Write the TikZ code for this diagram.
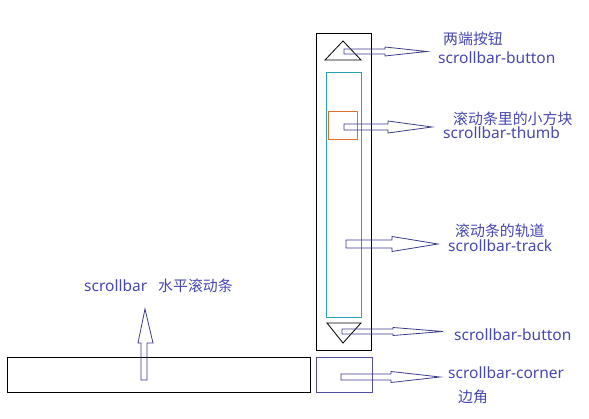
\documentclass[tikz,border=0pt]{standalone}
\usepackage{fontspec}
\setmainfont{Noto Sans}
\newfontfamily\cjk{Noto Sans CJK SC}
\definecolor{arrowc}{HTML}{3C3C8C}
\definecolor{textc}{HTML}{4646B4}
\definecolor{trackc}{HTML}{2AA0B4}
\definecolor{thumbc}{HTML}{E07030}
\definecolor{cornerc}{HTML}{50509A}
% right block arrow: #1 tail x, #2 y, #3 half shaft, #4 head start x, #5 half head, #6 tip x
\newcommand\rblockarrow[6]{%
  \draw[blockarr] (#1,#2-#3) -- (#4,#2-#3) -- (#4,#2-#5) -- (#6,#2) -- (#4,#2+#5) -- (#4,#2+#3) -- (#1,#2+#3) -- cycle;}
\begin{document}
\begin{tikzpicture}[x=1pt,y=-1pt,
  box/.style={draw, line width=0.8pt, inner sep=0pt, anchor=north west},
  blockarr/.style={draw=arrowc, line width=0.8pt, line join=miter},
  lbl/.style={text=textc, inner sep=0pt, anchor=west, font=\fontsize{15.5}{17}\selectfont},
  clbl/.style={text=textc, inner sep=0pt, anchor=west, font=\cjk\fontsize{14.9}{16}\selectfont}]
\useasboundingbox (0,0) rectangle (589,419);
% vertical scrollbar
\node[box, minimum width=55pt, minimum height=317pt] (vbar) at (316,33) {};
\node[box, draw=trackc, minimum width=35pt, minimum height=245pt] (track) at (326,72) {};
\node[box, draw=thumbc, minimum width=29pt, minimum height=28pt] (thumb) at (328,111) {};
\coordinate (upA) at (343,41);
\draw[line width=0.8pt] (upA) -- (361,60) -- (325,60) -- cycle;
\coordinate (dnA) at (343,343);
\draw[line width=0.8pt] (dnA) -- (361,323) -- (327,323) -- cycle;
% corner and horizontal bar
\node[box, draw=cornerc, minimum width=56pt, minimum height=35pt] (corner) at (316,357) {};
\node[box, minimum width=303pt, minimum height=35pt] (hbar) at (7,357) {};
% block arrows
\rblockarrow{344}{51.5}{2.5}{385}{4.5}{427}
\rblockarrow{344}{127}{3}{388}{6}{432}
\rblockarrow{346}{244}{4}{392}{7.5}{438}
\rblockarrow{342}{331.5}{2.5}{393}{4}{443}
\rblockarrow{341}{377}{3}{391}{5.5}{440}
\draw[blockarr] (141,380) -- (141,343) -- (138,343) -- (145,309) -- (153,343) -- (147,343) -- (147,380) -- cycle;
% labels
\node[clbl] (t1) at (443,39) {两端按钮};
\node[lbl] (t2) at (438,58) {scrollbar-button};
\node[clbl] (t3) at (453,119) {滚动条里的小方块};
\node[lbl] (t4) at (443,133) {scrollbar-thumb};
\node[clbl] (t5) at (455,231) {滚动条的轨道};
\node[lbl] (t6) at (448,246) {scrollbar-track};
\node[lbl] (t7) at (454,335) {scrollbar-button};
\node[lbl] (t8) at (448,373) {scrollbar-corner};
\node[clbl] (t9) at (458,397) {边角};
\node[lbl] (t10) at (84,286) {scrollbar};
\node[clbl] (t11) at (158,286) {水平滚动条};
\end{tikzpicture}
\end{document}
